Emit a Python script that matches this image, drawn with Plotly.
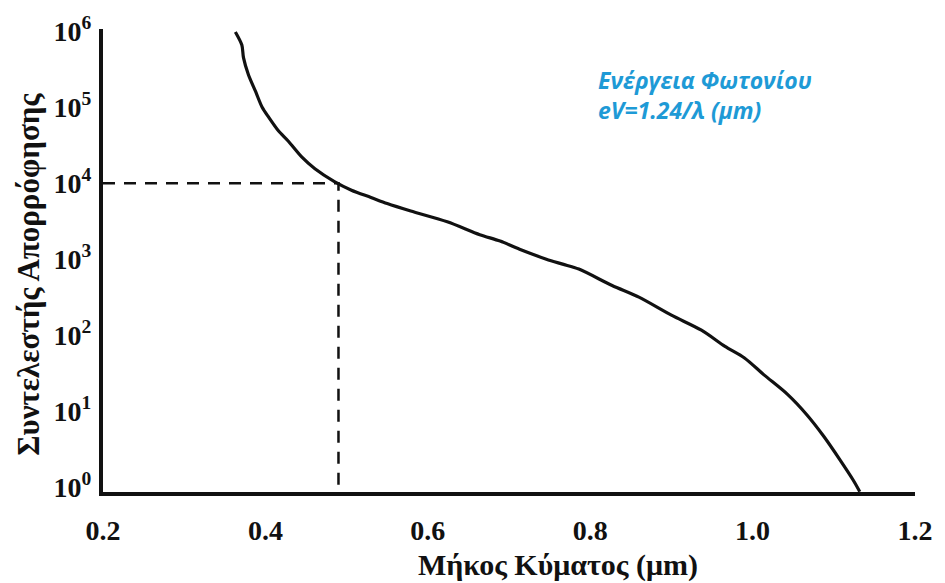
import plotly.graph_objects as go

# ---- data ----
wavelength_um = [0.363, 0.371, 0.373, 0.379, 0.388, 0.396, 0.404, 0.416, 0.428, 0.445,
                 0.461, 0.485, 0.506, 0.530, 0.550, 0.579, 0.624, 0.664, 0.689, 0.713,
                 0.746, 0.766, 0.786, 0.827, 0.860, 0.900, 0.937, 0.966, 0.990, 1.014,
                 1.043, 1.067, 1.088, 1.108, 1.124, 1.132]
absorption = [9.8e5, 6.6e5, 4.5e5, 2.7e5, 1.6e5, 1.0e5, 7.4e4, 4.9e4, 3.6e4, 2.2e4,
              1.55e4, 1.05e4, 8.1e3, 6.5e3, 5.4e3, 4.3e3, 3.1e3, 2.1e3, 1.73e3, 1.35e3,
              1.0e3, 860, 740, 450, 316, 183, 116, 71, 50, 30,
              16.6, 8.9, 4.6, 2.25, 1.23, 0.87]

marker_x = 0.49      # dashed guide: wavelength
marker_y = 1.0e4     # dashed guide: absorption coefficient

x_tick_vals = [0.2, 0.4, 0.6, 0.8, 1.0, 1.2]
x_tick_text = ["0.2", "0.4", "0.6", "0.8", "1.0", "1.2"]
y_tick_vals = [1, 10, 100, 1000, 10000, 100000, 1000000]
y_tick_text = ["10<sup>0</sup>", "10<sup>1</sup>", "10<sup>2</sup>", "10<sup>3</sup>",
               "10<sup>4</sup>", "10<sup>5</sup>", "10<sup>6</sup>"]

x_range = [0.2, 1.2]
y_log_range = [-0.065, 6.03]

x_title = "Μήκος Κύματος (μm)"
y_title = "Συντελεστής Απορρόφησης"
note_text = "Ενέργεια Φωτονίου<br>eV=1.24/λ (μm)"

# ---- figure ----
fig = go.Figure()

fig.add_trace(go.Scatter(
    x=[x_range[0], marker_x, marker_x],
    y=[marker_y, marker_y, 10 ** y_log_range[0]],
    mode="lines",
    line=dict(color="#111111", width=2.5, dash="12px,9px"),
    hoverinfo="skip", showlegend=False,
))

fig.add_trace(go.Scatter(
    x=wavelength_um, y=absorption,
    mode="lines",
    line=dict(color="#111111", width=3.2, shape="spline", smoothing=0.8),
    showlegend=False,
))

serif = "Liberation Serif"
title_font = dict(family=serif, size=30, color="#111111", weight=700)

fig.update_layout(
    width=945, height=583,
    margin=dict(l=103, r=23, t=24, b=91),
    paper_bgcolor="white", plot_bgcolor="white",
    xaxis=dict(
        range=x_range, tickvals=x_tick_vals, ticktext=x_tick_text,
        showgrid=False, zeroline=False, showline=True, linewidth=4, linecolor="#111111",
        ticks="", ticklabelstandoff=10,
        tickfont=dict(family=serif, size=28, color="#111111", weight=700),
    ),
    yaxis=dict(
        type="log", range=y_log_range, tickvals=y_tick_vals, ticktext=y_tick_text,
        showgrid=False, zeroline=False, showline=True, linewidth=4, linecolor="#111111",
        ticks="", ticklabelstandoff=2,
        tickfont=dict(family=serif, size=28, color="#111111", weight=700),
    ),
    annotations=[
        dict(text=x_title, xref="paper", yref="paper", x=0.560, y=-0.158,
             xanchor="center", yanchor="middle", showarrow=False, font=title_font),
        dict(text=y_title, xref="paper", yref="paper", x=-0.092, y=0.470,
             xanchor="center", yanchor="middle", textangle=-90, showarrow=False,
             font=dict(family=serif, size=31, color="#111111", weight=700)),
        dict(text=note_text, xref="paper", yref="paper", x=0.607, y=0.857,
             xanchor="left", yanchor="middle", align="left", showarrow=False,
             font=dict(family="Open Sans", size=23, color="#1E9AD6", weight=700,
                       style="italic")),
    ],
)

fig.write_html("out.html")
